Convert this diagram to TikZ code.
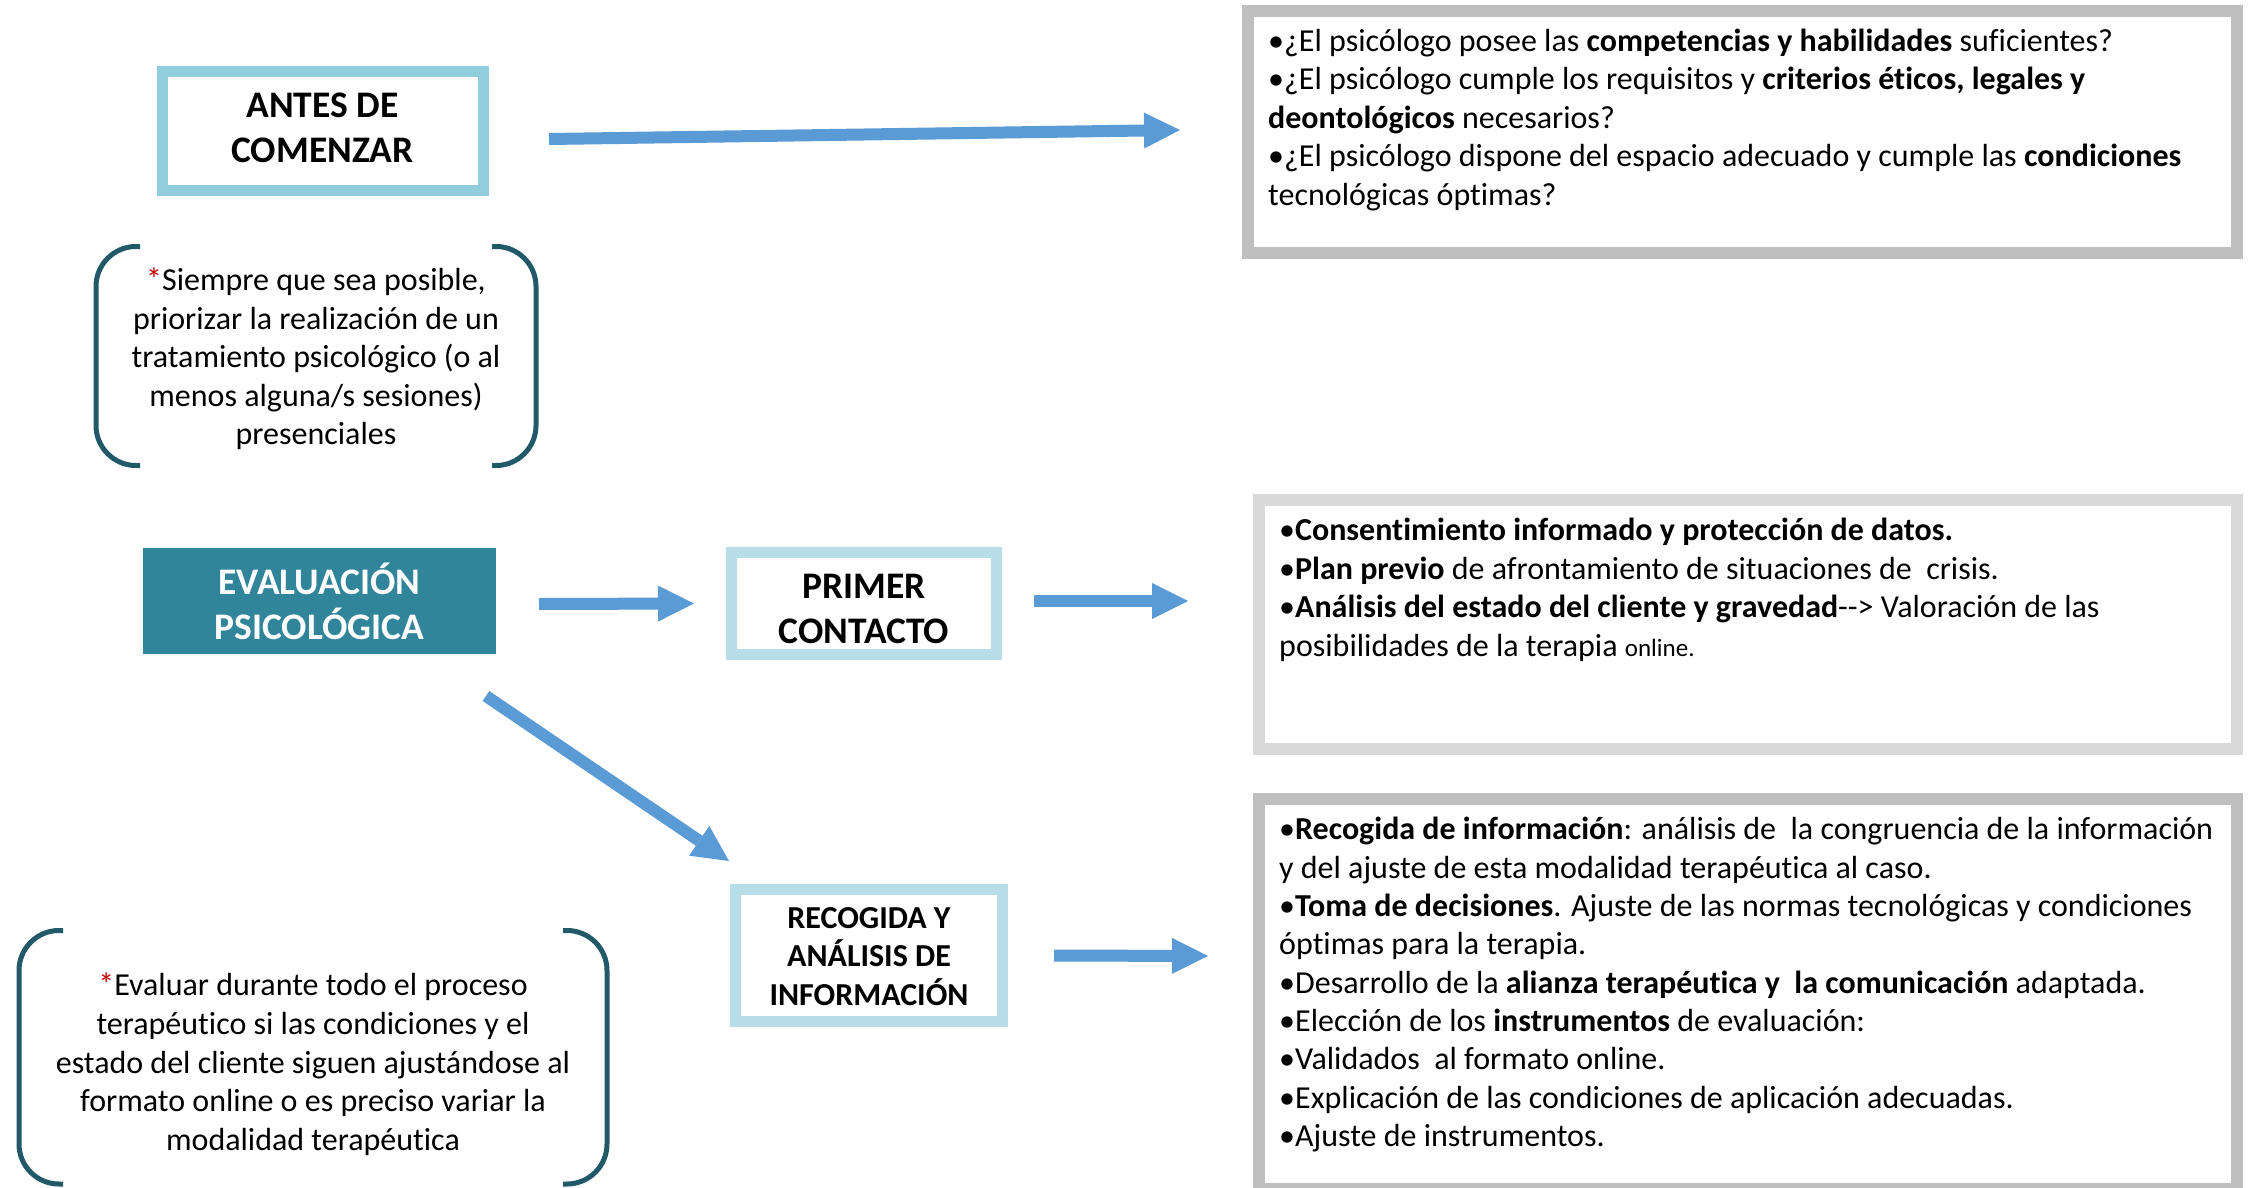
\documentclass[tikz,border=0pt]{standalone}
\usepackage{fontspec}
\setmainfont{Carlito}[Ligatures={TeX,NoCommon}]
\usetikzlibrary{arrows.meta}
\definecolor{boxblue}{HTML}{92CDDD}
\definecolor{paleblue}{HTML}{B7DEE8}
\definecolor{evalteal}{HTML}{31859B}
\definecolor{boxgrey}{HTML}{BFBFBF}
\definecolor{lightgrey}{HTML}{D9D9D9}
\definecolor{arrowblue}{HTML}{5B9BD5}
\definecolor{bracketteal}{HTML}{215968}
\definecolor{starred}{HTML}{C00000}
\tikzset{%
    titlebox/.style={draw=boxblue, line width=11pt, fill=white, outer sep=0pt, inner sep=0pt},
    titletext/.style={inner sep=0pt, align=center, font=\fontsize{37.5}{45}\selectfont\bfseries},
    framebox/.style={draw=boxgrey, line width=12pt, outer sep=0pt, inner sep=0pt},
    listtext/.style={anchor=north west, inner sep=0pt, align=left, font=\fontsize{32}{38.6}\selectfont},
    notebox/.style={inner sep=0pt, outer sep=0pt},
    notetext/.style={inner sep=0pt, align=center, font=\fontsize{32}{38.6}\selectfont},
    bracket/.style={draw=bracketteal, line width=5pt, rounded corners=40pt},
    bigarrow/.style={draw=arrowblue, line width=12pt, -{Triangle[length=36pt, width=36pt, line width=0pt]}},
}
\newcommand{\redstar}{\textcolor{starred}{*}}

\begin{document}
\begin{tikzpicture}[x=1pt, y=-1pt]

	\useasboundingbox (0,0) rectangle (2249,1188);
	\clip (0,0) rectangle (2249,1188);

	% title boxes
	\node[titlebox, minimum width=321, minimum height=118] (antes) at (322.5,131) {};
	\node[titletext] (antestext) at ([yshift=3pt]antes.center) {ANTES DE\\COMENZAR};

	\node[titlebox, draw=none, fill=evalteal, minimum width=353, minimum height=106] (eval) at (319.5,601) {};
	\node[titletext, text=white] (evaltext) at (eval.center) {EVALUACIÓN\\PSICOLÓGICA};

	\node[titlebox, draw=paleblue, minimum width=265, minimum height=102] (primer) at (864,603.5) {};
	\node[titletext] (primertext) at ([yshift=-5pt]primer.center) {PRIMER\\CONTACTO};

	\node[titlebox, draw=paleblue, minimum width=267, minimum height=132] (recog) at (869,955.5) {};
	\node[titletext, font=\fontsize{32}{38.6}\selectfont\bfseries] (recogtext) at ([yshift=-1pt]recog.center) {RECOGIDA Y\\ANÁLISIS DE\\INFORMACIÓN};

	% notes in brackets
	\node[notebox, minimum width=440, minimum height=219] (note1) at (316,356) {};
	\node[notetext] (note1text) at ([yshift=-3pt]note1.center) {\redstar Siempre que sea posible,\\priorizar la realización de un\\tratamiento psicológico (o al\\menos alguna/s sesiones)\\presenciales};
	\draw[bracket] ([xshift=44pt]note1.north west) -- (note1.north west) -- (note1.south west) -- ([xshift=44pt]note1.south west);
	\draw[bracket] ([xshift=-44pt]note1.north east) -- (note1.north east) -- (note1.south east) -- ([xshift=-44pt]note1.south east);

	\node[notebox, minimum width=588, minimum height=253.5] (note2) at (313,1057.25) {};
	\node[notetext] (note2text) at ([yshift=-7pt]note2.center) {\redstar Evaluar durante todo el proceso\\terapéutico si las condiciones y el\\estado del cliente siguen ajustándose al\\formato online o es preciso variar la\\modalidad terapéutica};
	\draw[bracket] ([xshift=44pt]note2.north west) -- (note2.north west) -- (note2.south west) -- ([xshift=44pt]note2.south west);
	\draw[bracket] ([xshift=-44pt]note2.north east) -- (note2.north east) -- (note2.south east) -- ([xshift=-44pt]note2.south east);

	% right boxes
	\node[framebox, minimum width=989, minimum height=242] (quest) at (1742.5,132) {};
	\node[listtext] (questtext) at ([xshift=20pt, yshift=-17.5pt]quest.north west) {%
		•¿El psicólogo posee las \textbf{competencias y habilidades} suficientes?\\
		•¿El psicólogo cumple los requisitos y \textbf{criterios éticos, legales y}\\
		\textbf{deontológicos} necesarios?\\
		•¿El psicólogo dispone del espacio adecuado y cumple las \textbf{condiciones}\\
		tecnológicas óptimas?};

	\node[framebox, draw=lightgrey, minimum width=978, minimum height=249] (contact) at (1748,624.5) {};
	\node[listtext] (contacttext) at ([xshift=20pt, yshift=-18pt]contact.north west) {%
		•\textbf{Consentimiento informado y protección de datos.}\\
		•\textbf{Plan previo} de afrontamiento de situaciones de\ \ crisis.\\
		•\textbf{Análisis del estado del cliente y gravedad}-{}-> Valoración de las\\
		posibilidades de la terapia {\fontsize{25}{38.6}\selectfont online.}};

	\node[framebox, minimum width=978, minimum height=390] (info) at (1748,994) {};
	\node[listtext, font=\fontsize{32}{38.35}\selectfont] (infotext) at ([xshift=20pt, yshift=-18pt]info.north west) {%
		•\textbf{Recogida de información}: análisis de\ \ la congruencia de la información\\
		y del ajuste de esta modalidad terapéutica al caso.\\
		•\textbf{Toma de decisiones}. Ajuste de las normas tecnológicas y condiciones\\
		óptimas para la terapia.\\
		•Desarrollo de la \textbf{alianza terapéutica y\ \ la comunicación} adaptada.\\
		•Elección de los \textbf{instrumentos} de evaluación:\\
		•Validados\ \ al formato online.\\
		•Explicación de las condiciones de aplicación adecuadas.\\
		•Ajuste de instrumentos.};

	% arrows
	\draw[bigarrow] ([xshift=66pt, yshift=-8pt]antes.east) -- ([xshift=-68pt, yshift=2pt]quest.west);
	\draw[bigarrow] ([xshift=43pt, yshift=-3pt]eval.east) -- ([xshift=-37.5pt]primer.west);
	\draw[bigarrow] ([xshift=37.5pt, yshift=2.5pt]primer.east) -- ([xshift=-71pt, yshift=23.5pt]contact.west);
	\draw[bigarrow] ([xshift=-10pt, yshift=-42pt]eval.south east) -- ([xshift=-6.5pt, yshift=28.5pt]recog.north west);
	\draw[bigarrow] ([xshift=51.5pt]recog.east) -- ([xshift=-51pt, yshift=38pt]info.west);

\end{tikzpicture}
\end{document}
